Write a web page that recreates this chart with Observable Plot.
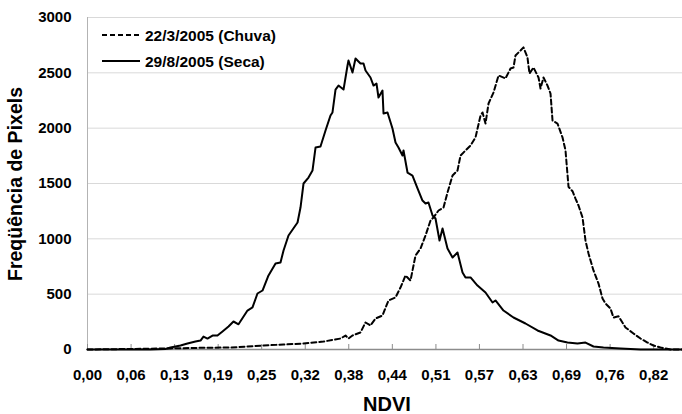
<!DOCTYPE html>
<html>
<head>
<meta charset="utf-8">
<script src="https://cdn.jsdelivr.net/npm/d3@7"></script>
<script src="https://cdn.jsdelivr.net/npm/@observablehq/plot@0.6"></script>
<style>
  html, body { margin: 0; padding: 0; background: #fff; }
  #chart { width: 682px; height: 414px; }
</style>
</head>
<body>
<div id="chart"></div>
<script>
// ---- Data ----
const ndviSeca = [0, 0.0914, 0.1131, 0.1204, 0.1349, 0.1450, 0.1566, 0.1639, 0.1682, 0.1740, 0.1813, 0.1885, 0.1958, 0.2045, 0.2117, 0.2190, 0.2320, 0.2393, 0.2465, 0.2538, 0.2625, 0.2727, 0.2799, 0.2843, 0.2915, 0.3046, 0.3089, 0.3133, 0.3205, 0.3263, 0.3307, 0.3379, 0.3452, 0.3524, 0.3553, 0.3597, 0.3640, 0.3713, 0.3771, 0.3785, 0.3843, 0.3887, 0.3959, 0.4003, 0.4032, 0.4104, 0.4148, 0.4191, 0.4220, 0.4278, 0.4293, 0.4351, 0.4423, 0.4467, 0.4510, 0.4568, 0.4583, 0.4641, 0.4713, 0.4786, 0.4858, 0.4902, 0.4945, 0.5004, 0.5047, 0.5105, 0.5149, 0.5221, 0.5294, 0.5366, 0.5439, 0.5482, 0.5555, 0.5656, 0.5772, 0.5874, 0.5917, 0.6033, 0.6178, 0.6352, 0.6526, 0.6715, 0.6831, 0.6961, 0.7106, 0.7222, 0.7338, 0.7483, 0.7730, 0.8020, 0.8629];
const freqSeca = [0, 0, 5, 18, 36, 54, 72, 81, 117, 99, 126, 126, 163, 208, 253, 228, 352, 380, 506, 533, 669, 777, 786, 895, 1030, 1148, 1283, 1500, 1554, 1617, 1825, 1834, 1979, 2114, 2142, 2349, 2385, 2349, 2566, 2611, 2503, 2630, 2584, 2584, 2521, 2458, 2385, 2404, 2277, 2340, 2133, 2142, 1997, 1870, 1825, 1753, 1798, 1599, 1572, 1455, 1346, 1319, 1328, 1211, 1184, 985, 1093, 913, 831, 876, 696, 651, 651, 578, 515, 425, 443, 352, 289, 235, 172, 127, 81, 63, 54, 63, 27, 18, 9, 0, 0];

const ndviChuva = [0, 0.0624, 0.1204, 0.1639, 0.2074, 0.2553, 0.2843, 0.3133, 0.3423, 0.3669, 0.3742, 0.3785, 0.3843, 0.3959, 0.4032, 0.4104, 0.4177, 0.4278, 0.4365, 0.4467, 0.4539, 0.4612, 0.4684, 0.4757, 0.4830, 0.4902, 0.4975, 0.5018, 0.5091, 0.5163, 0.5221, 0.5294, 0.5366, 0.5410, 0.5482, 0.5555, 0.5627, 0.5700, 0.5729, 0.5772, 0.5816, 0.5888, 0.5961, 0.6062, 0.6135, 0.6178, 0.6207, 0.6280, 0.6323, 0.6381, 0.6410, 0.6468, 0.6541, 0.6570, 0.6613, 0.6671, 0.6715, 0.6744, 0.6816, 0.6889, 0.6932, 0.6976, 0.7034, 0.7077, 0.7121, 0.7179, 0.7222, 0.7266, 0.7338, 0.7411, 0.7469, 0.7512, 0.7585, 0.7628, 0.7701, 0.7802, 0.7918, 0.8020, 0.8121, 0.8208, 0.8310, 0.8455, 0.8629];
const freqChuva = [0, 5, 10, 15, 18, 36, 45, 54, 72, 99, 126, 99, 126, 154, 244, 217, 280, 307, 443, 470, 560, 669, 623, 849, 913, 1030, 1166, 1193, 1256, 1283, 1419, 1572, 1617, 1753, 1798, 1843, 1916, 2114, 2142, 2042, 2223, 2322, 2476, 2449, 2539, 2548, 2657, 2702, 2730, 2638, 2494, 2548, 2458, 2358, 2458, 2385, 2313, 2069, 2042, 1916, 1800, 1470, 1430, 1364, 1301, 1193, 985, 867, 714, 596, 461, 416, 370, 289, 300, 199, 145, 99, 63, 36, 18, 0, 0];

const xTickValues = [0, 0.0632, 0.1263, 0.1895, 0.2526, 0.3158, 0.3789, 0.4421, 0.5053, 0.5684, 0.6316, 0.6947, 0.7579, 0.8211];
const xTickLabels = ["0,00", "0,06", "0,13", "0,19", "0,25", "0,32", "0,38", "0,44", "0,51", "0,57", "0,63", "0,69", "0,76", "0,82"];
const yTicks = [0, 500, 1000, 1500, 2000, 2500, 3000];

const seriesNames = ["22/3/2005 (Chuva)", "29/8/2005 (Seca)"];
const xTitle = "NDVI";
const yTitle = "Freqüência de Pixels";

// ---- Build tables ----
const seca = ndviSeca.map((x, i) => ({ndvi: x, freq: freqSeca[i]}));
const chuva = ndviChuva.map((x, i) => ({ndvi: x, freq: freqChuva[i]}));

const FONT = "'Liberation Sans', Arial, Helvetica, sans-serif";

const plot = Plot.plot({
  width: 682,
  height: 414,
  marginLeft: 87,
  marginRight: 0,
  marginTop: 17,
  marginBottom: 65,
  style: {fontFamily: FONT, fontSize: "15px", fontWeight: "bold", color: "#000", background: "#fff", overflow: "visible"},
  x: {domain: [0, 0.8629]},
  y: {domain: [0, 3000]},
  marks: [
    Plot.gridY(yTicks.filter(d => d > 0), {stroke: "#d9d9d9", strokeOpacity: 1, strokeWidth: 1}),
    Plot.ruleX([0], {stroke: "#b3b3b3", strokeWidth: 1}),
    Plot.axisY({ticks: yTicks, tickSize: 0, tickPadding: 16, label: null, tickFormat: d => String(d)}),
    Plot.axisX({ticks: xTickValues, tickSize: 5, dy: -5, tickFormat: () => "", label: null, stroke: "#8c8c8c"}),
    Plot.axisX({ticks: xTickValues, tickSize: 0, tickPadding: 20, label: null,
      tickFormat: d => xTickLabels[xTickValues.indexOf(d)]}),
    Plot.ruleY([0], {stroke: "#8c8c8c", strokeWidth: 1.5}),
    Plot.line(chuva, {x: "ndvi", y: "freq", stroke: "#000", strokeWidth: 2, strokeDasharray: "5,3", curve: "linear"}),
    Plot.line(seca, {x: "ndvi", y: "freq", stroke: "#000", strokeWidth: 2, curve: "linear"})
  ]
});

const svg = d3.select(plot);

// Axis titles
svg.append("text")
  .attr("transform", "translate(22,184) rotate(-90)")
  .attr("text-anchor", "middle")
  .attr("font-family", FONT)
  .attr("font-weight", "bold")
  .attr("font-size", 19.5)
  .attr("fill", "#000")
  .text(yTitle);

svg.append("text")
  .attr("x", 387)
  .attr("y", 411)
  .attr("text-anchor", "middle")
  .attr("font-family", FONT)
  .attr("font-weight", "bold")
  .attr("font-size", 20)
  .attr("fill", "#000")
  .text(xTitle);

// Legend
const legend = svg.append("g")
  .attr("font-family", FONT)
  .attr("font-weight", "bold")
  .attr("font-size", 15.5)
  .attr("text-anchor", "start");
const legendDash = ["5,3", null];
seriesNames.forEach((name, i) => {
  const cy = 35 + i * 26;
  legend.append("line")
    .attr("x1", 102).attr("x2", 140).attr("y1", cy).attr("y2", cy)
    .attr("stroke", "#000").attr("stroke-width", 2)
    .attr("stroke-dasharray", legendDash[i]);
  legend.append("text")
    .attr("x", 145).attr("y", cy + 6)
    .attr("text-anchor", "start")
    .attr("fill", "#000")
    .text(name);
});

document.getElementById("chart").appendChild(plot);
</script>
</body>
</html>
